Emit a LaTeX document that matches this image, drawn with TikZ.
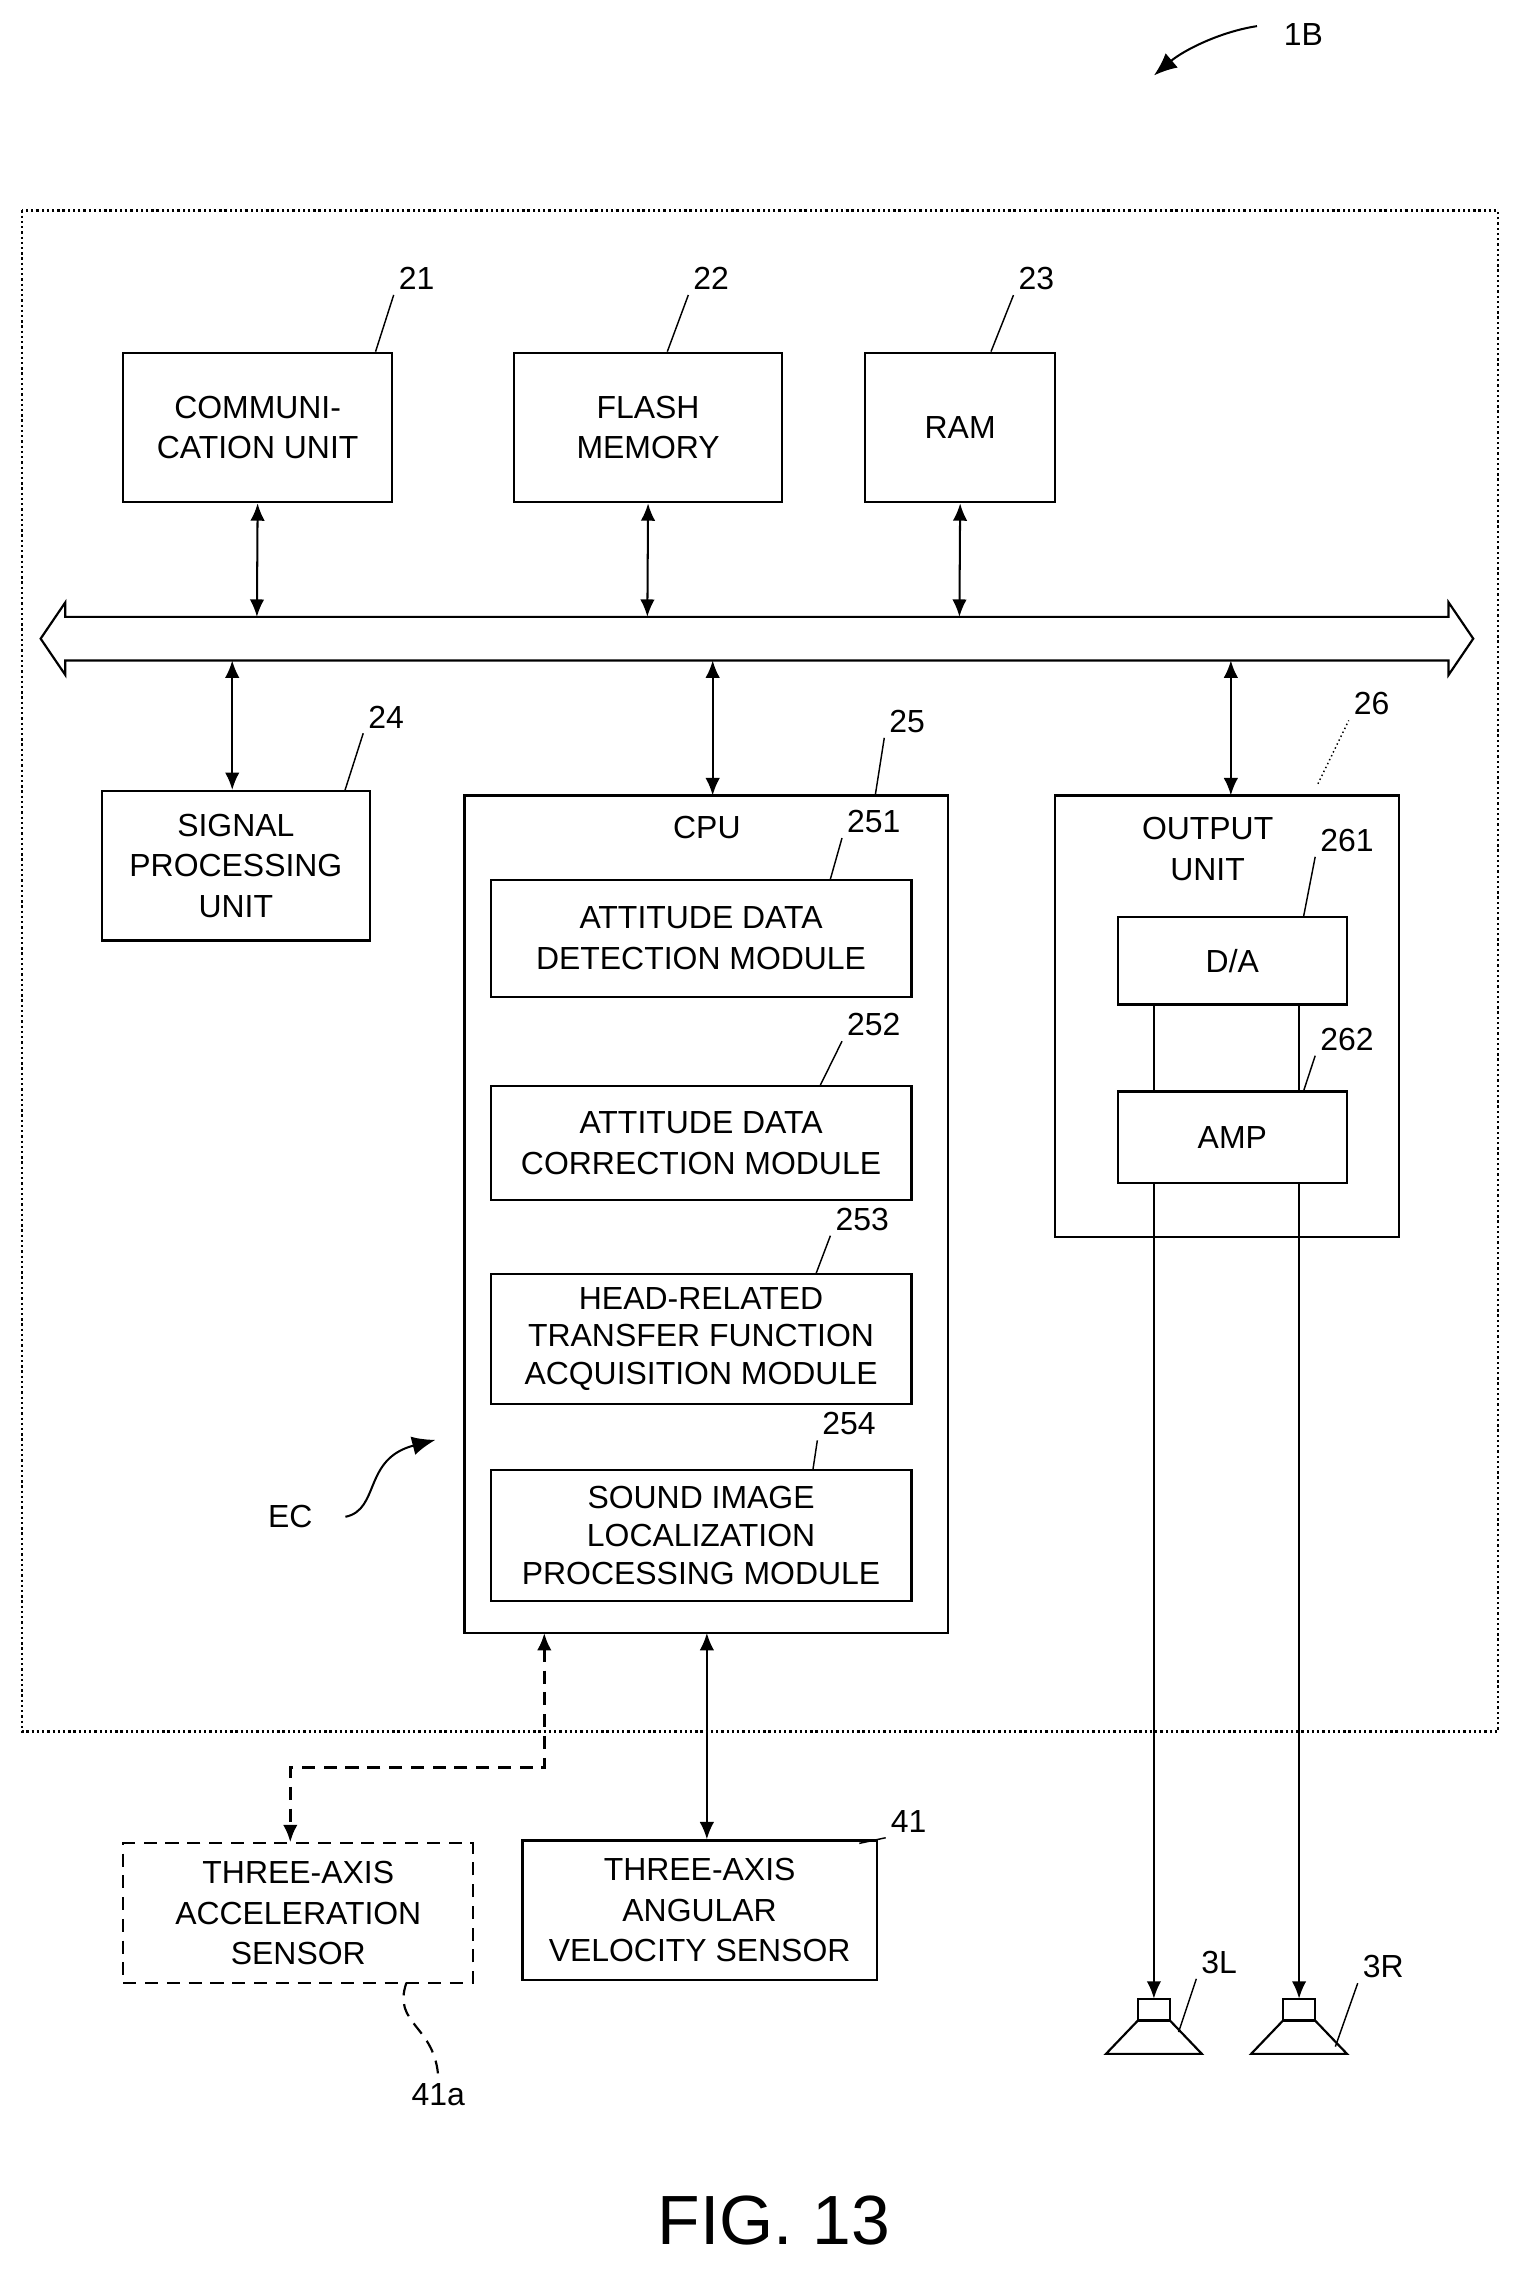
\documentclass[tikz,border=0pt]{standalone}
\usepackage{fontspec}
\setmainfont{Liberation Sans}
\usetikzlibrary{arrows.meta,positioning,calc,decorations.pathmorphing}

\begin{document}
\begin{tikzpicture}[x=1pt, y=-1pt,
    every node/.style={font=\fontsize{22}{28}\selectfont, align=center},
    blk/.style={draw, line width=1.5pt, inner sep=0pt},
    refnum/.style={font=\fontsize{22}{24}\selectfont},
    lead/.style={line width=1pt},
    bigdash/.style={dash pattern=on 9pt off 6pt},
    dbl/.style={line width=1.4pt, {Latex[length=12pt,width=10pt]}-{Latex[length=12pt,width=10pt]}},
    one/.style={line width=1.4pt, -{Latex[length=12pt,width=10pt]}}]
  \useasboundingbox (0,0) rectangle (1045,1566);

  % outer frame
  \draw[dotted, line width=1.6pt] (15,145) rectangle (1032,1193);

  % upper blocks
  \node[blk, minimum width=185pt, minimum height=103pt] (comm) at (177.5,294.5) {COMMUNI-\\CATION UNIT};
  \node[blk, minimum width=185pt, minimum height=103pt] (flash) at (446.5,294.5) {FLASH\\MEMORY};
  \node[blk, minimum width=131pt, minimum height=103pt] (ram) at (661.5,294.5) {RAM};
  \node[refnum] (n21) at (287,192) {21};
  \node[refnum] (n22) at (490,192) {22};
  \node[refnum] (n23) at (714,192) {23};
  \draw[lead] (comm.north east) ++(-12,0) -- (n21.south west);
  \draw[lead] (flash.north east) ++(-80,0) -- (n22.south west);
  \draw[lead] (ram.north east) ++(-45,0) -- (n23.south west);

  % bus
  \draw[line width=1.5pt, fill=white] (28,440) -- (45,415) -- (45,425) -- (998,425) -- (998,415) -- (1015,440)
    -- (998,465) -- (998,455) -- (45,455) -- (45,465) -- cycle;
  \coordinate (busT1) at (177,425);
  \coordinate (busT2) at (446,425);
  \coordinate (busT3) at (661,425);
  \coordinate (busB1) at (160,455);
  \coordinate (busB2) at (491,455);
  \coordinate (busB3) at (848,455);
  \draw[dbl] (comm.south) -- (busT1);
  \draw[dbl] (flash.south) -- (busT2);
  \draw[dbl] (ram.south) -- (busT3);

  % signal processing
  \node[blk, minimum width=185pt, minimum height=103pt] (sig) at (162.5,596.5) {SIGNAL\\PROCESSING\\UNIT};
  \node[refnum] (n24) at (266,494) {24};
  \draw[lead] (sig.north east) ++(-18,0) -- (n24.south west);
  \draw[dbl] (busB1) -- (sig.north -| busB1);

  % CPU
  \draw[blk] (320,548) rectangle (653,1125);
  \coordinate (cpuT) at (491,548);
  \coordinate (cpuB1) at (375,1125);
  \coordinate (cpuB2) at (487,1125);
  \node (cpu) at (487,570) {CPU};
  \node[refnum] (n25) at (625,497) {25};
  \draw[lead] (603,548) -- (n25.south west);
  \draw[dbl] (busB2) -- (cpuT);

  \node[blk, minimum width=290pt, minimum height=81pt] (m1) at (483,646.5) {ATTITUDE DATA\\DETECTION MODULE};
  \node[blk, minimum width=290pt, minimum height=79pt] (m2) at (483,787.5) {ATTITUDE DATA\\CORRECTION MODULE};
  \node[blk, minimum width=290pt, minimum height=89pt, font=\fontsize{22}{26}\selectfont] (m3) at (483,922.5) {HEAD-RELATED\\TRANSFER FUNCTION\\ACQUISITION MODULE};
  \node[blk, minimum width=290pt, minimum height=90pt, font=\fontsize{22}{26}\selectfont] (m4) at (483,1058) {SOUND IMAGE\\LOCALIZATION\\PROCESSING MODULE};
  \node[refnum] (n251) at (602,566) {251};
  \node[refnum] (n252) at (602,706) {252};
  \node[refnum] (n253) at (594,840) {253};
  \node[refnum] (n254) at (585,981) {254};
  \draw[lead] (572,606) -- (n251.south west);
  \draw[lead] (565,748) -- (n252.south west);
  \draw[lead] (562,878) -- (n253.south west);
  \draw[lead] (560,1013) -- (n254.south west);

  % output unit
  \draw[blk] (727,548) rectangle (964,852);
  \node (outl) at (832,585) {OUTPUT\\UNIT};
  \node[refnum] (n26) at (945,485) {26};
  \draw[lead, dotted] (908,540) -- (n26.south west);
  \draw[dbl] (busB3) -- (848,548);
  \node[blk, minimum width=158pt, minimum height=60pt] (da) at (849,662) {D/A};
  \node[blk, minimum width=158pt, minimum height=63pt] (amp) at (849,783.5) {AMP};
  \node[refnum] (n261) at (928,579) {261};
  \node[refnum] (n262) at (928,716) {262};
  \draw[lead] (898,632) -- (n261.south west);
  \draw[lead] (898,752) -- (n262.south west);
  \draw[line width=1.4pt] (795,692) -- (795,752) (895,692) -- (895,752);

  % speakers
  \foreach \nm/\sx in {spL/795, spR/895} {
    \draw[line width=1.5pt] (\sx-11,1377) rectangle (\sx+11,1392);
    \draw[line width=1.5pt] (\sx-11,1392) -- (\sx-33,1415) -- (\sx+33,1415) -- (\sx+11,1392);
    \coordinate (\nm) at (\sx,1377);
  }
  \draw[one] (795,815) -- (spL);
  \draw[one] (895,815) -- (spR);
  \node[refnum] (n3L) at (840,1352) {3L};
  \node[refnum] (n3R) at (953,1355) {3R};
  \draw[lead] (812,1400) -- (n3L.south west);
  \draw[lead] (920,1410) -- (n3R.south west);

  % sensors
  \node[blk, bigdash, minimum width=241pt, minimum height=96pt] (acc) at (205.5,1318) {THREE-AXIS\\ACCELERATION\\SENSOR};
  \node[blk, minimum width=244pt, minimum height=96pt] (gyro) at (482,1316) {THREE-AXIS\\ANGULAR\\VELOCITY SENSOR};
  \draw[dbl, bigdash, line width=2pt] (cpuB1) |- (200,1218) -- (acc.north -| 200,0);
  \draw[dbl] (cpuB2) -- (gyro.north -| cpuB2);
  \node[refnum] (n41) at (626,1255) {41};
  \node[refnum] (n41a) at (302,1443) {41a};
  \draw[lead] (592,1270) -- (n41.south west);
  \draw[lead, bigdash, line width=1.5pt] (280,1366) .. controls (270,1395) and (300,1395) .. (n41a.north);

  % misc labels
  \node (ec) at (200,1045) {EC};
  \draw[line width=1.4pt, -{Latex[length=16pt,width=13pt]}] (238,1045) .. controls (262,1040) and (250,1005) .. (300,992);
  \node[refnum] (n1B) at (898,24) {1B};
  \draw[line width=1.4pt, -{Latex[length=16pt,width=13pt]}] (866,18) .. controls (840,22) and (815,35) .. (795,52);
  \node[font=\fontsize{48}{50}\selectfont] (fig) at (533,1530) {FIG. 13};
\end{tikzpicture}
\end{document}
